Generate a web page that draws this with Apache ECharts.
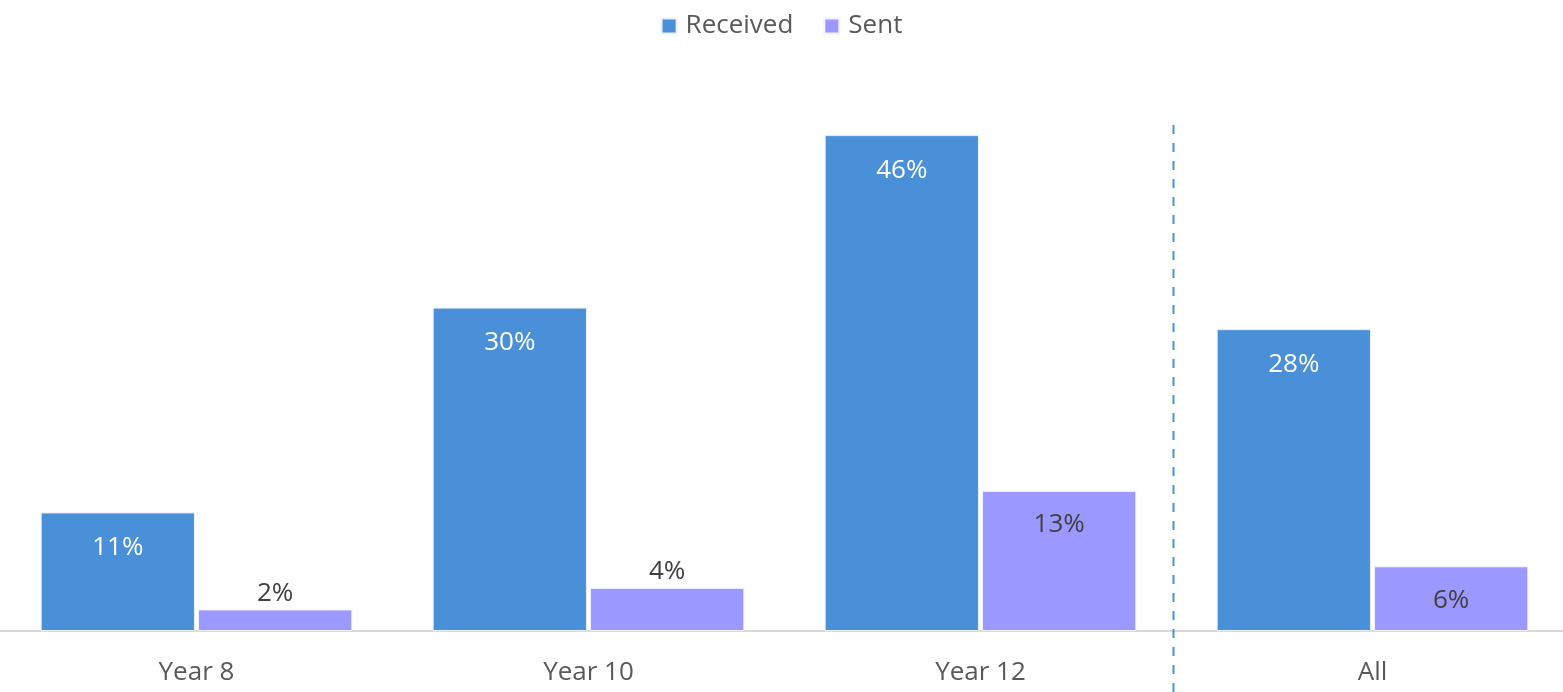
<!DOCTYPE html>
<html>
<head>
<meta charset="utf-8">
<script src="https://cdn.jsdelivr.net/npm/echarts@6/dist/echarts.min.js"></script>
<style>
html,body{margin:0;padding:0;background:#fff;}
#chart{width:1563px;height:692px;}
</style>
</head>
<body>
<div id="chart"></div>
<script>
const categories = ['Year 8', 'Year 10', 'Year 12', 'All'];
const received = [11, 30, 46, 28];
const sent = [2, 4, 13, 6];
const seriesNames = ['Received', 'Sent'];

const FONT = '"Open Sans", "Noto Sans", sans-serif';
const chart = echarts.init(document.getElementById('chart'));

const sentData = sent.map(v => ({
  value: v,
  label: v < 5 ? { position: 'top', distance: 3 } : { position: 'insideTop', distance: 21 }
}));

chart.setOption({
  animation: false,
  legend: {
    top: 8,
    left: 'center',
    icon: 'rect',
    itemWidth: 15,
    itemHeight: 15,
    itemGap: 30,
    textStyle: { fontFamily: FONT, fontSize: 26, color: '#595959', padding: [0, 0, 0, 4] },
    data: seriesNames
  },
  grid: { left: 0.5, width: 1568, top: 92, bottom: 61, containLabel: false, outerBoundsMode: 'none' },
  xAxis: {
    type: 'category',
    data: categories,
    axisLine: { lineStyle: { color: '#d9d9d9', width: 2 } },
    axisTick: { show: false },
    axisLabel: { fontFamily: FONT, fontSize: 26, color: '#595959', margin: 29 }
  },
  yAxis: {
    type: 'value',
    min: 0,
    max: 50,
    show: false,
    splitLine: { show: false }
  },
  series: [
    {
      name: seriesNames[0],
      type: 'bar',
      data: received,
      barGap: '2%',
      barCategoryGap: '20.5%',
      itemStyle: { color: '#4a90d9', borderColor: '#e8f0fa', borderWidth: 1 },
      label: {
        show: true,
        position: 'insideTop',
        distance: 22,
        formatter: '{c}%',
        fontFamily: FONT,
        fontSize: 26,
        color: '#ffffff'
      }
    },
    {
      name: seriesNames[1],
      type: 'bar',
      data: sentData,
      itemStyle: { color: '#9b99ff', borderColor: '#f0f0ff', borderWidth: 1 },
      label: {
        show: true,
        formatter: '{c}%',
        fontFamily: FONT,
        fontSize: 26,
        color: '#404040'
      }
    }
  ]
});

// dashed separator between the last two categories, positioned via the axis scale
const p2 = chart.convertToPixel({ xAxisIndex: 0 }, categories[2]);
const p3 = chart.convertToPixel({ xAxisIndex: 0 }, categories[3]);
const sepX = Math.round((p2 + p3) / 2) - 3.5;
const yTop = chart.convertToPixel({ yAxisIndex: 0 }, 50);
chart.setOption({
  graphic: [{
    type: 'line',
    shape: { x1: sepX, y1: yTop + 33, x2: sepX, y2: 692 },
    style: { stroke: '#4a90d9', lineWidth: 2, lineDash: [9, 9] },
    z: 10
  }]
});
</script>
</body>
</html>
